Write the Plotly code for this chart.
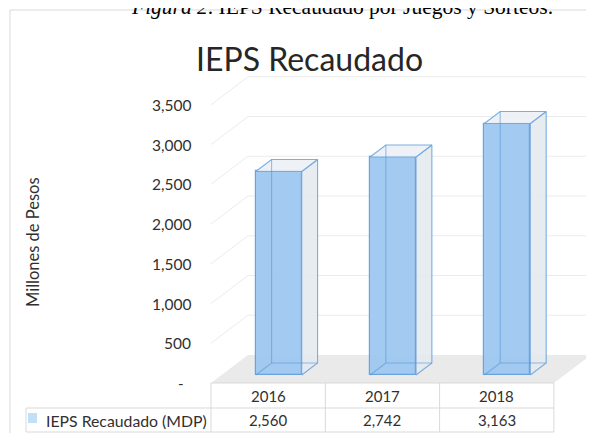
import plotly.graph_objects as go

# ---------------- data ----------------
categories = ["2016", "2017", "2018"]
values = [2560, 2742, 3163]
series_name = "IEPS Recaudado (MDP)"
tick_values = [0, 500, 1000, 1500, 2000, 2500, 3000, 3500]
tick_labels = ["-", "500", "1,000", "1,500", "2,000", "2,500", "3,000", "3,500"]
chart_title = "IEPS Recaudado"
y_title = "Millones de Pesos"
caption_label = "Figura 2"
caption_text = ". IEPS Recaudado por Juegos y Sorteos."

# ---------------- geometry (style) ----------------
SW, SH = 594, 433        # window size
OFF = 8                  # page body margin
W, H = SW - OFF, SH - OFF
PX_X = 114.3      # pixels per category
PX_Y = 0.0795     # pixels per value unit
X0_PX = 211       # screen pixel of category edge x=-0.5
Y0_PX = 383       # screen pixel of value 0 (front plane)


def px_to_x(px):
    return -0.5 + (px - X0_PX) / PX_X


def px_to_y(py):
    return (Y0_PX - py) / PX_Y


def paper_x(px):
    return (px - OFF) / W


def paper_y(py):
    return 1 - (py - OFF) / H


x_range = [px_to_x(OFF), px_to_x(SW)]
y_range = [px_to_y(SH), px_to_y(OFF)]

DX = 37 / PX_X          # depth offset in x units
DY = 28 / PX_Y          # depth offset in value units
F, B = 8 / 28, 20 / 28  # front/back depth of bars
BW = 46 / PX_X          # bar width

FONT = "Lato"
TXT = "#303030"
GRID = "#EBEBEB"
TABLE_LINE = "#D9D9D9"

n = len(categories)
xi = list(range(n))

fig = go.Figure()

# front faces of bars (library bars, shifted into depth)
fig.add_trace(go.Bar(
    x=[i + F * DX for i in xi], y=values, base=F * DY, width=BW,
    marker=dict(color="rgba(158,200,240,0.95)",
                line=dict(color="rgba(100,160,220,0.95)", width=1.2)),
    hoverinfo="skip", showlegend=False,
))

side_x, side_y, top_x, top_y, hid_x, hid_y = [], [], [], [], [], []
for i, v in zip(xi, values):
    xl_f = i - BW / 2 + F * DX
    xr_f = i + BW / 2 + F * DX
    xl_b = i - BW / 2 + B * DX
    xr_b = i + BW / 2 + B * DX
    side_x += [xr_f, xr_b, xr_b, xr_f, xr_f, None]
    side_y += [F * DY, B * DY, v + B * DY, v + F * DY, F * DY, None]
    top_x += [xl_f, xr_f, xr_b, xl_b, xl_f, None]
    top_y += [v + F * DY, v + F * DY, v + B * DY, v + B * DY, v + F * DY, None]
    hid_x += [xl_f, xl_b, xr_b, None, xl_b, xl_b, None]
    hid_y += [F * DY, B * DY, B * DY, None, B * DY, v + B * DY, None]

fig.add_trace(go.Scatter(
    x=side_x, y=side_y, mode="lines", fill="toself",
    fillcolor="rgba(228,234,240,0.9)",
    line=dict(color="rgba(110,165,222,0.9)", width=1.1),
    hoverinfo="skip", showlegend=False))
fig.add_trace(go.Scatter(
    x=top_x, y=top_y, mode="lines", fill="toself",
    fillcolor="rgba(236,241,246,0.9)",
    line=dict(color="rgba(110,165,222,0.9)", width=1.1),
    hoverinfo="skip", showlegend=False))
fig.add_trace(go.Scatter(
    x=hid_x, y=hid_y, mode="lines",
    line=dict(color="rgba(90,150,215,0.6)", width=1.1),
    hoverinfo="skip", showlegend=False))

shapes = []
# floor
shapes.append(dict(
    type="path", xref="x", yref="y", layer="below",
    path=f"M {-0.5},0 L {n - 0.5},0 L {n - 0.5 + DX},{DY} L {-0.5 + DX},{DY} Z",
    fillcolor="#EAEAEA", line=dict(width=0)))
# wall gridlines
for v in tick_values[1:]:
    shapes.append(dict(type="line", xref="x", yref="y", layer="below",
                       x0=-0.5, y0=v, x1=-0.5 + DX, y1=v + DY,
                       line=dict(color=GRID, width=1)))
    shapes.append(dict(type="line", xref="x", yref="y", layer="below",
                       x0=-0.5 + DX, y0=v + DY, x1=n - 0.5 + DX, y1=v + DY,
                       line=dict(color=GRID, width=1)))

# data table
ROW1 = px_to_y(408)
ROW2 = px_to_y(432)
LEG_X = px_to_x(26)
tl = dict(color=TABLE_LINE, width=1)
shapes.append(dict(type="line", xref="x", yref="y", x0=-0.5, x1=n - 0.5, y0=0, y1=0, line=tl))
shapes.append(dict(type="line", xref="x", yref="y", x0=LEG_X, x1=n - 0.5, y0=ROW1, y1=ROW1, line=tl))
shapes.append(dict(type="line", xref="x", yref="y", x0=LEG_X, x1=n - 0.5, y0=ROW2, y1=ROW2, line=tl))
for k in range(n + 1):
    shapes.append(dict(type="line", xref="x", yref="y", x0=k - 0.5, x1=k - 0.5,
                       y0=ROW2, y1=0, line=tl))
shapes.append(dict(type="line", xref="x", yref="y", x0=LEG_X, x1=LEG_X,
                   y0=ROW2, y1=ROW1, line=tl))
# legend key
shapes.append(dict(type="rect", xref="x", yref="y",
                   x0=px_to_x(28), x1=px_to_x(37), y0=px_to_y(423), y1=px_to_y(413),
                   fillcolor="#BFE0F7", line=dict(width=0)))
# chart frame
shapes.append(dict(type="rect", xref="paper", yref="paper",
                   x0=paper_x(10), x1=1.05, y0=-0.05, y1=paper_y(10),
                   line=dict(color="#D9D9D9", width=1), fillcolor="rgba(0,0,0,0)"))

ann = []
for c, i in zip(categories, xi):
    ann.append(dict(x=i, y=(0 + ROW1) / 2, text=c, showarrow=False,
                    font=dict(family=FONT, size=15, color=TXT)))
for v, i in zip(values, xi):
    ann.append(dict(x=i, y=(ROW1 + ROW2) / 2, text=f"{v:,}", showarrow=False,
                    font=dict(family=FONT, size=15, color=TXT)))
ann.append(dict(x=px_to_x(44), y=(ROW1 + ROW2) / 2, text=series_name, xanchor="left",
                showarrow=False, font=dict(family=FONT, size=15.8, color=TXT)))
# y tick labels
for tv, tlab in zip(tick_values, tick_labels):
    if tlab == "-":
        ann.append(dict(x=-0.5, y=tv, text=tlab, showarrow=False, xanchor="center",
                        xshift=-(X0_PX - 181), font=dict(family=FONT, size=15, color=TXT)))
    else:
        ann.append(dict(x=-0.5, y=tv, text=tlab, showarrow=False, xanchor="right",
                        xshift=-(X0_PX - 193), font=dict(family=FONT, size=15.5, color=TXT)))
# y title
ann.append(dict(x=px_to_x(33), y=px_to_y(242), text=y_title, textangle=-90,
                showarrow=False, font=dict(family=FONT, size=16.5, color=TXT)))
# chart title
ann.append(dict(x=paper_x(309), y=paper_y(37), xref="paper", yref="paper", text=chart_title,
                showarrow=False, font=dict(family=FONT, size=32, color="#262626")))
# caption (cut off at top)
ann.append(dict(x=paper_x(342), y=paper_y(7), xref="paper", yref="paper", yanchor="middle",
                text=f"<i>{caption_label}</i>{caption_text}", showarrow=False,
                font=dict(family="Liberation Serif", size=21.5, color="#000000")))

fig.update_layout(
    width=W, height=H,
    margin=dict(l=0, r=0, t=0, b=0),
    paper_bgcolor="white", plot_bgcolor="white",
    xaxis=dict(range=x_range, visible=False, fixedrange=True),
    yaxis=dict(range=y_range, visible=False, fixedrange=True),
    shapes=shapes, annotations=ann, showlegend=False, bargap=0,
)

fig.write_html("out.html", config={"displayModeBar": False})
